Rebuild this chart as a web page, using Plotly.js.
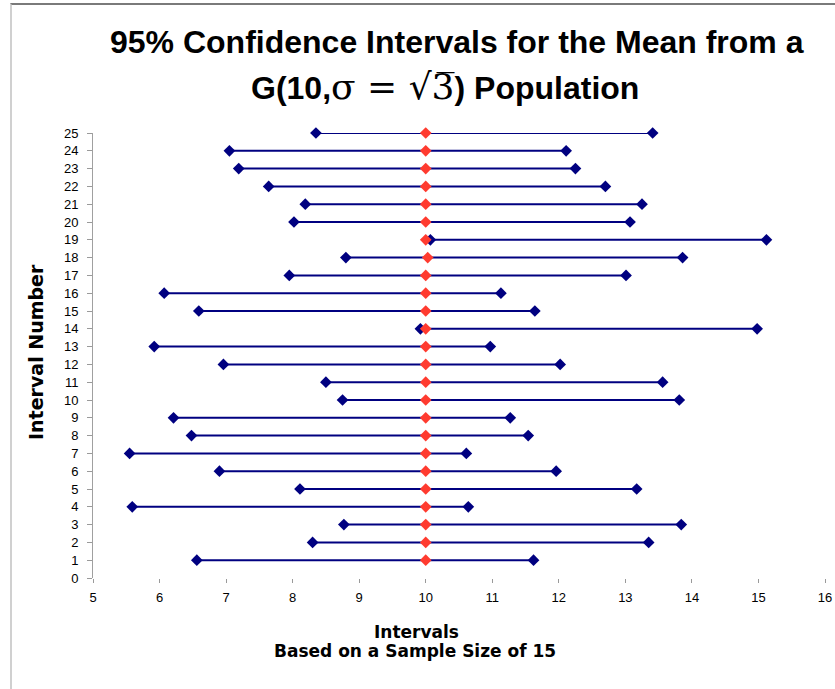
<!DOCTYPE html>
<html>
<head>
<meta charset="utf-8">
<script src="https://cdn.plot.ly/plotly-3.0.1.min.js"></script>
<style>
  html, body { margin: 0; padding: 0; background: #fff; }
  #frame { position: absolute; left: 10px; top: 3px; width: 840px; height: 700px;
           border-top: 2px solid #7a7a7a; border-left: 2px solid #d0d0d0; }
  #chart { position: absolute; left: 0; top: 0; width: 835px; height: 689px; }
</style>
</head>
<body>
<div id="frame"></div>
<div id="chart"></div>
<script>
// Interval number (1..25)
const intervalNumber = [1,2,3,4,5,6,7,8,9,10,11,12,13,14,15,16,17,18,19,20,21,22,23,24,25];
// Lower confidence limits
const lowerLimit = [6.56,8.30,8.77,5.59,8.11,6.90,5.55,6.48,6.21,8.75,8.50,6.96,5.92,
                    9.92,6.59,6.07,7.95,8.80,10.07,8.02,8.19,7.64,7.19,7.05,8.35];
// Upper confidence limits
const upperLimit = [11.62,13.35,13.84,10.64,13.17,11.96,10.61,11.54,11.27,13.81,13.56,12.02,10.97,
                    14.98,11.64,11.13,13.01,13.86,15.12,13.07,13.25,12.70,12.25,12.11,13.41];
// Population mean marked on each interval
const popMean = [10,10,10,10,10,10,10,10,10,10,10,10,10,10,10,10,10,10.03,10,10,10,10,10,10,10];

const xTicks = [5,6,7,8,9,10,11,12,13,14,15,16];
const yTicks = [0,1,2,3,4,5,6,7,8,9,10,11,12,13,14,15,16,17,18,19,20,21,22,23,24,25];

const navy = '#000080';
const red = '#ff3b2f';

// Horizontal segments, one per interval, separated by gaps
const segX = [], segY = [];
intervalNumber.forEach((n, i) => {
  segX.push(lowerLimit[i], upperLimit[i], null);
  segY.push(n, n, null);
});

const traces = [
  {
    type: 'scatter', mode: 'lines', x: segX, y: segY,
    line: { color: navy, width: 2 }, hoverinfo: 'skip', cliponaxis: false
  },
  {
    type: 'scatter', mode: 'markers', x: lowerLimit, y: intervalNumber,
    marker: { symbol: 'diamond', size: 9, color: navy }, cliponaxis: false
  },
  {
    type: 'scatter', mode: 'markers', x: popMean, y: intervalNumber,
    marker: { symbol: 'diamond', size: 9, color: red }, cliponaxis: false
  },
  {
    type: 'scatter', mode: 'markers', x: upperLimit, y: intervalNumber,
    marker: { symbol: 'diamond', size: 9, color: navy }, cliponaxis: false
  }
];

const baseFont = 'Liberation Sans, Arial, sans-serif';
const titleFont = 'DejaVu Sans, sans-serif';
const mathSpan = '<span style="font-family:DejaVu Serif, serif;font-weight:normal;font-size:36px">';

const layout = {
  width: 835, height: 689,
  margin: { l: 93, r: 10, t: 133, b: 111 },
  paper_bgcolor: 'rgba(0,0,0,0)',
  plot_bgcolor: 'rgba(0,0,0,0)',
  showlegend: false,
  font: { family: baseFont, color: '#000', size: 13 },
  xaxis: {
    range: [5, 16], tickvals: xTicks, ticktext: xTicks.map(String),
    showgrid: false, zeroline: false, showline: false,
    ticks: 'outside', ticklen: 4, tickcolor: '#9a9a9a', tickwidth: 1,
    ticklabelstandoff: 3,
    tickfont: { size: 13, family: baseFont }
  },
  yaxis: {
    range: [0, 25], tickvals: yTicks, ticktext: yTicks.map(String),
    showgrid: false, zeroline: false,
    showline: true, linecolor: '#a0a0a0', linewidth: 1,
    ticks: 'outside', ticklen: 5, tickcolor: '#9a9a9a', tickwidth: 1,
    ticklabelstandoff: 6,
    tickfont: { size: 13, family: baseFont }
  },
  annotations: [
    {
      text: '<b>95% Confidence Intervals for the Mean from a</b>',
      xref: 'paper', yref: 'paper', x: (457 - 93) / 732, y: 1 + (133 - 42) / 445,
      xanchor: 'center', yanchor: 'middle', showarrow: false,
      font: { size: 32, family: baseFont }
    },
    {
      text: '<b>G(10,' + mathSpan + 'σ = √3\u0305</span>) Population</b>',
      xref: 'paper', yref: 'paper', x: (445 - 93) / 732, y: 1 + (133 - 86) / 445,
      xanchor: 'center', yanchor: 'middle', showarrow: false,
      font: { size: 32, family: baseFont }
    },
    {
      text: '<b>Intervals</b>',
      xref: 'paper', yref: 'paper', x: (416 - 93) / 732, y: -(632 - 578) / 445,
      xanchor: 'center', yanchor: 'middle', showarrow: false,
      font: { size: 17, family: titleFont }
    },
    {
      text: '<b>Based on a Sample Size of 15</b>',
      xref: 'paper', yref: 'paper', x: (415 - 93) / 732, y: -(651 - 578) / 445,
      xanchor: 'center', yanchor: 'middle', showarrow: false,
      font: { size: 17, family: titleFont }
    },
    {
      text: '<b>Interval Number</b>',
      xref: 'paper', yref: 'paper', x: -(93 - 36) / 732, y: (578 - 352) / 445,
      xanchor: 'center', yanchor: 'middle', showarrow: false, textangle: -90,
      font: { size: 19, family: titleFont }
    }
  ]
};

Plotly.newPlot('chart', traces, layout, { staticPlot: true });
</script>
</body>
</html>
